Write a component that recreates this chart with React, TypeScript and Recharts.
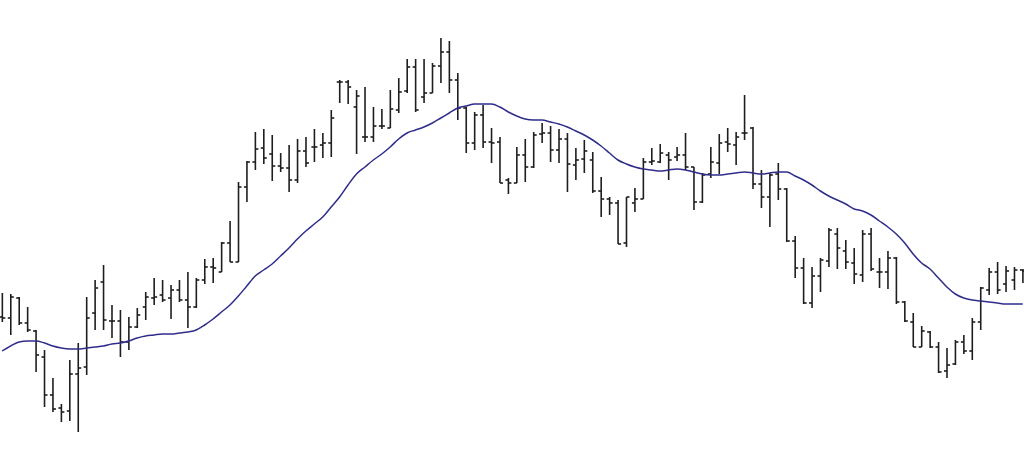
import React from 'react';
import { ComposedChart, Bar, Line, XAxis, YAxis } from 'recharts';

// OHLC prices per session
const opens = [
  183, 182, 202, 177, 169, 143, 105, 92, 89, 126,
  133, 187, 218, 179, 179, 158, 173, 193, 202, 205,
  202, 210, 200, 193, 220, 233, 228, 257, 238, 313,
  338, 352, 346, 334, 332, 320, 349, 353, 355, 357,
  418, 418, 393, 363, 363, 374, 372, 390, 409, 433,
  403, 407, 434, 448, 420, 392, 357, 385, 358, 358,
  320, 317, 345, 333, 366, 367, 350, 361, 335, 341,
  340, 309, 301, 297, 257, 297, 301, 338, 338, 345,
  343, 345, 333, 298, 326, 337, 358, 355, 367, 372,
  316, 303, 326, 311, 259, 232, 197, 224, 239, 266,
  249, 237, 225, 266, 228, 228, 242, 198, 178, 153,
  168, 153, 129, 136, 158, 149, 178, 210, 228, 216,
  220, 230,
];

const highs = [
  207, 206, 203, 193, 170, 150, 122, 96, 140, 157,
  203, 220, 235, 195, 190, 183, 192, 208, 222, 220,
  215, 220, 228, 222, 241, 242, 258, 279, 318, 339,
  368, 371, 365, 347, 355, 361, 363, 371, 367, 390,
  420, 420, 410, 413, 393, 391, 410, 422, 441, 441,
  441, 437, 462, 459, 427, 393, 388, 395, 372, 363,
  322, 353, 361, 368, 377, 374, 371, 367, 352, 360,
  348, 323, 303, 300, 303, 312, 342, 352, 356, 348,
  353, 367, 333, 327, 353, 366, 372, 368, 405, 373,
  330, 327, 337, 312, 264, 242, 233, 242, 272, 272,
  260, 252, 270, 272, 242, 249, 243, 199, 187, 174,
  169, 158, 152, 160, 165, 182, 213, 232, 238, 234,
  233, 231,
];

const lows = [
  178, 165, 175, 168, 128, 93, 88, 78, 79, 68,
  125, 170, 170, 162, 143, 150, 172, 180, 195, 198,
  181, 198, 172, 192, 216, 217, 228, 238, 238, 298,
  330, 336, 319, 328, 308, 317, 333, 338, 342, 343,
  397, 396, 346, 358, 358, 371, 372, 387, 407, 388,
  397, 407, 417, 407, 380, 347, 350, 352, 337, 317,
  306, 317, 318, 332, 357, 338, 337, 308, 320, 327,
  307, 283, 285, 256, 253, 288, 301, 335, 337, 320,
  339, 330, 290, 297, 322, 326, 348, 335, 360, 311,
  292, 273, 300, 258, 222, 196, 192, 208, 233, 231,
  231, 216, 218, 229, 212, 211, 196, 178, 153, 153,
  152, 127, 122, 135, 146, 140, 170, 205, 206, 208,
  210, 217,
];

const closes = [
  182, 203, 177, 170, 145, 105, 91, 88, 126, 132,
  182, 212, 180, 179, 158, 173, 185, 203, 203, 200,
  210, 200, 193, 220, 233, 232, 257, 238, 313, 338,
  351, 342, 334, 332, 320, 349, 337, 353, 357, 382,
  418, 413, 404, 363, 374, 374, 391, 408, 433, 390,
  407, 434, 448, 420, 392, 357, 385, 358, 357, 317,
  317, 345, 333, 365, 367, 350, 361, 336, 340, 349,
  309, 301, 297, 256, 303, 301, 338, 339, 347, 340,
  345, 333, 298, 325, 338, 357, 356, 363, 367, 316,
  303, 325, 311, 259, 232, 197, 224, 240, 270, 252,
  238, 226, 266, 231, 228, 242, 198, 179, 153, 169,
  153, 128, 135, 158, 149, 178, 212, 228, 210, 229,
  230, 229,
];

// moving average as drawn
const movingAvg = [
  149, 154, 158, 159, 159, 157, 154, 152, 151, 151,
  152, 153, 154, 156, 157, 159, 162, 164, 165, 166,
  166, 167, 168, 170, 175, 181, 188, 195, 204, 214,
  224, 230, 236, 244, 252, 261, 269, 276, 283, 293,
  303, 315, 326, 333, 340, 346, 353, 361, 367, 370,
  373, 377, 382, 387, 392, 394, 396, 396, 396, 393,
  388, 384, 381, 380, 380, 378, 376, 373, 369, 365,
  360, 354, 347, 340, 336, 333, 331, 330, 329, 330,
  331, 330, 328, 326, 325, 325, 326, 327, 328, 327,
  326, 327, 328, 328, 324, 320, 315, 309, 304, 300,
  296, 291, 289, 285, 279, 273, 266, 257, 246, 237,
  231, 222, 213, 206, 202, 200, 199, 198, 197, 196,
  196, 196,
];

const data = opens.map((o, i) => ({
  i,
  open: o,
  high: highs[i],
  low: lows[i],
  close: closes[i],
  range: [lows[i], highs[i]],
  ma: movingAvg[i],
}));

const BAR_COLOR = '#1e1e1e';

const OhlcShape = (props: any) => {
  const { x, y, width, height, payload } = props;
  if (x == null || y == null) return null;
  const cx = x + width / 2;
  const span = payload.high - payload.low;
  const yOf = (v: number) => (span === 0 ? y : y + ((payload.high - v) / span) * height);
  const yo = yOf(payload.open);
  const yc = yOf(payload.close);
  return (
    <g stroke={BAR_COLOR} strokeWidth={1.6}>
      <line x1={cx} x2={cx} y1={y} y2={y + Math.max(height, 1)} />
      <line x1={cx - 3} x2={cx} y1={yo} y2={yo} />
      <line x1={cx} x2={cx + 3} y1={yc} y2={yc} />
    </g>
  );
};

export default function App() {
  return (
    <div style={{ position: 'absolute', left: -2.5, top: 0, background: '#fff' }}>
      <ComposedChart width={1029} height={467} data={data} margin={{ top: 0, right: 0, bottom: 0, left: 0 }}>
        <XAxis dataKey="i" hide />
        <YAxis hide domain={[33, 500]} allowDataOverflow />
        <Bar dataKey="range" shape={<OhlcShape />} isAnimationActive={false} />
        <Line
          type="monotone"
          dataKey="ma"
          stroke="#2f2d8a"
          strokeWidth={1.5}
          dot={false}
          activeDot={false}
          isAnimationActive={false}
        />
      </ComposedChart>
    </div>
  );
}
